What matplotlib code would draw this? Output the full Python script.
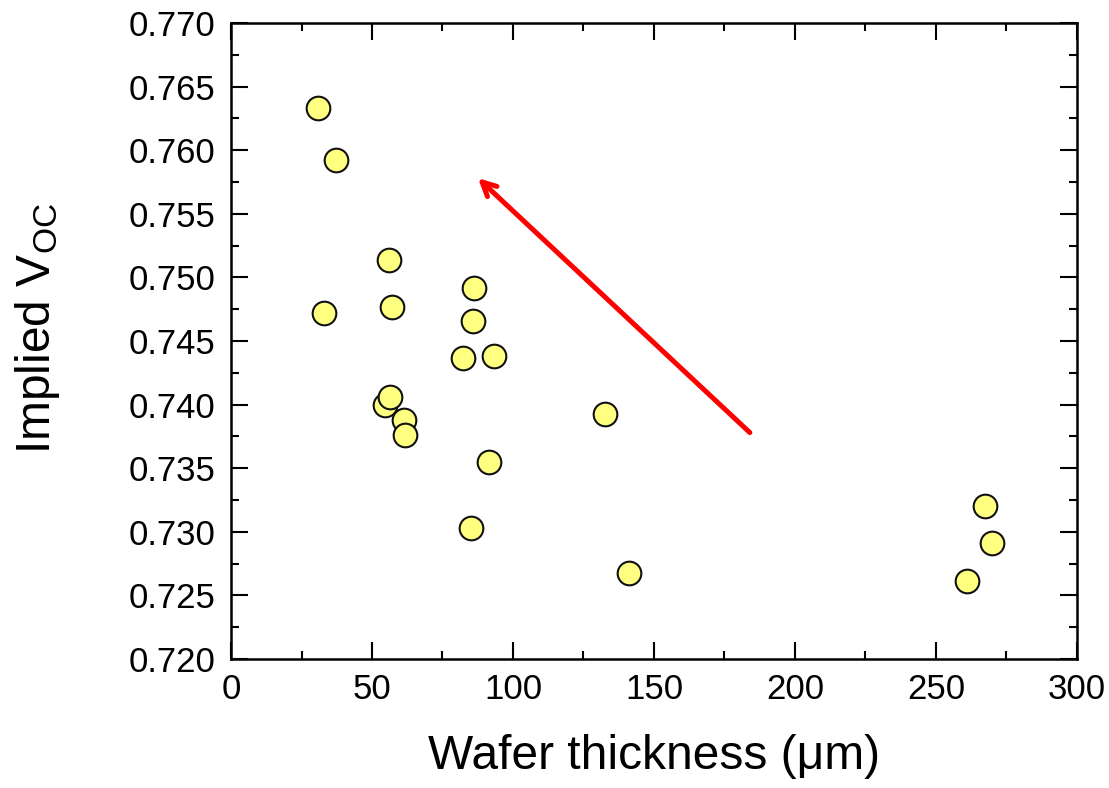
import matplotlib
matplotlib.use("Agg")
import matplotlib.pyplot as plt
from matplotlib.ticker import MultipleLocator, FormatStrFormatter

plt.rcParams["font.family"] = ["Liberation Sans", "DejaVu Sans"]

# ── Data ───────────────────────────────────────────────────────────────────────
thickness = [30.9, 37.2, 33.0, 56.0, 57.1, 54.6, 56.4, 61.3, 61.7, 86.2,
             85.8, 82.3, 93.3, 91.5, 85.1, 132.6, 141.1, 267.4, 269.9, 261.0]
voc = [0.7633, 0.7592, 0.7472, 0.7514, 0.7477, 0.7400, 0.7406, 0.7388,
       0.7376, 0.7492, 0.7466, 0.7437, 0.7438, 0.7355, 0.7303, 0.7393,
       0.7268, 0.7320, 0.7291, 0.7261]

# trend arrow (tail -> head), in data units
arrow_tail = (184.0, 0.7378)
arrow_head = (87.6, 0.7578)

# ── Figure ─────────────────────────────────────────────────────────────────────
fig = plt.figure(figsize=(11.09, 7.88), dpi=100)
ax = fig.add_axes([0.2083, 0.1637, 0.7628, 0.8071])

ax.scatter(thickness, voc, s=290, facecolor="#ffff80", edgecolor="#111111",
           linewidth=1.5, zorder=3)

ax.annotate("", xy=arrow_head, xytext=arrow_tail,
            arrowprops=dict(arrowstyle="->,head_length=1.0,head_width=0.5",
                            color="#ff0000", lw=3.6, shrinkA=0, shrinkB=0),
            zorder=4)

ax.set_xlim(0, 300)
ax.set_ylim(0.720, 0.770)
ax.xaxis.set_major_locator(MultipleLocator(50))
ax.xaxis.set_minor_locator(MultipleLocator(25))
ax.yaxis.set_major_locator(MultipleLocator(0.005))
ax.yaxis.set_minor_locator(MultipleLocator(0.0025))
ax.yaxis.set_major_formatter(FormatStrFormatter("%.3f"))

ax.tick_params(which="both", direction="in", top=True, right=True,
               width=1.5, labelsize=25)
ax.tick_params(axis="y", which="both", pad=11)
ax.tick_params(axis="x", which="both", pad=10)
ax.tick_params(which="major", length=12)
ax.tick_params(which="minor", length=6)
for sp in ax.spines.values():
    sp.set_linewidth(1.8)

ax.set_xlabel("Wafer thickness (\u03bcm)", fontsize=34.5)
ax.set_ylabel("Implied V$_\\mathregular{OC}$", fontsize=34.5)
ax.xaxis.set_label_coords(0.5, -0.118)
ax.yaxis.set_label_coords(-0.2, 0.52)

fig.savefig("out.png", dpi=100, facecolor="white")
plt.close(fig)
